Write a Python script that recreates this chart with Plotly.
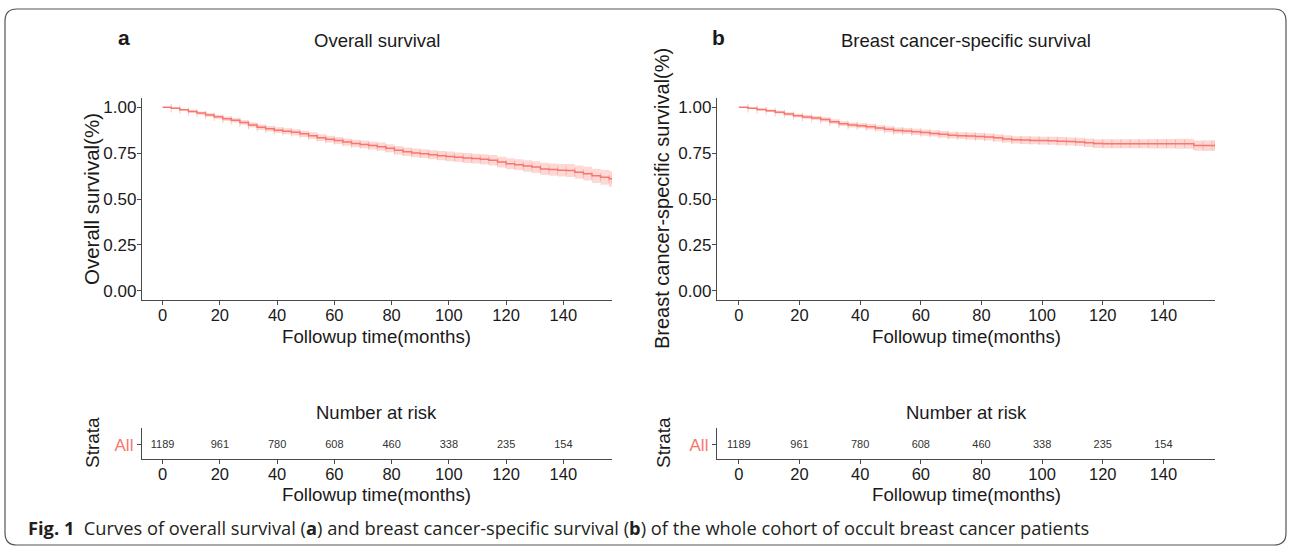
import plotly.graph_objects as go

# ---------------- data ----------------
months = [0, 3, 6, 9, 12, 15, 18, 21, 24, 27, 30, 33, 36, 39, 42, 45, 48, 51, 54, 57,
          60, 63, 66, 69, 72, 75, 78, 81, 84, 87, 90, 93, 96, 99, 102, 105, 108, 111,
          114, 117, 120, 123, 126, 129, 132, 135, 138, 141, 144, 147, 150, 153, 156, 157]

os_surv = [1.000, 0.994, 0.986, 0.977, 0.968, 0.958, 0.948, 0.937, 0.929, 0.917,
           0.903, 0.891, 0.883, 0.875, 0.869, 0.863, 0.855, 0.845, 0.834, 0.826,
           0.818, 0.810, 0.802, 0.797, 0.791, 0.785, 0.776, 0.766, 0.757, 0.751,
           0.747, 0.741, 0.736, 0.732, 0.727, 0.723, 0.720, 0.716, 0.711, 0.701,
           0.692, 0.686, 0.680, 0.674, 0.664, 0.660, 0.657, 0.655, 0.646, 0.638,
           0.626, 0.618, 0.610, 0.607]
os_lower = [1.000, 0.990, 0.980, 0.969, 0.959, 0.948, 0.937, 0.925, 0.917, 0.904,
            0.889, 0.876, 0.868, 0.859, 0.853, 0.846, 0.838, 0.827, 0.816, 0.807,
            0.799, 0.790, 0.782, 0.776, 0.770, 0.763, 0.754, 0.743, 0.734, 0.727,
            0.723, 0.716, 0.711, 0.706, 0.701, 0.696, 0.693, 0.688, 0.683, 0.672,
            0.662, 0.656, 0.649, 0.642, 0.631, 0.627, 0.623, 0.620, 0.610, 0.601,
            0.587, 0.577, 0.567, 0.563]
os_upper = [1.000, 0.998, 0.992, 0.985, 0.977, 0.968, 0.959, 0.949, 0.941, 0.930,
            0.917, 0.906, 0.898, 0.891, 0.885, 0.880, 0.872, 0.863, 0.852, 0.845,
            0.837, 0.830, 0.822, 0.818, 0.812, 0.807, 0.798, 0.789, 0.780, 0.775,
            0.771, 0.766, 0.761, 0.758, 0.753, 0.750, 0.747, 0.744, 0.739, 0.730,
            0.722, 0.716, 0.711, 0.706, 0.697, 0.693, 0.691, 0.690, 0.682, 0.675,
            0.665, 0.659, 0.653, 0.651]

bcss_surv = [1.000, 0.994, 0.987, 0.981, 0.973, 0.963, 0.954, 0.946, 0.941, 0.933,
             0.921, 0.910, 0.903, 0.899, 0.894, 0.887, 0.880, 0.873, 0.870, 0.866,
             0.862, 0.857, 0.852, 0.847, 0.845, 0.843, 0.840, 0.838, 0.833, 0.827,
             0.822, 0.821, 0.819, 0.818, 0.817, 0.815, 0.813, 0.811, 0.806, 0.802,
             0.801, 0.801, 0.801, 0.801, 0.801, 0.801, 0.801, 0.801, 0.801, 0.801,
             0.791, 0.791, 0.791, 0.791]
bcss_lower = [1.000, 0.990, 0.981, 0.974, 0.965, 0.954, 0.944, 0.935, 0.930, 0.921,
              0.908, 0.897, 0.889, 0.885, 0.879, 0.872, 0.864, 0.857, 0.854, 0.849,
              0.845, 0.840, 0.834, 0.829, 0.827, 0.824, 0.821, 0.819, 0.813, 0.807,
              0.802, 0.800, 0.798, 0.797, 0.795, 0.793, 0.791, 0.788, 0.783, 0.778,
              0.777, 0.777, 0.776, 0.776, 0.776, 0.775, 0.775, 0.775, 0.774, 0.774,
              0.763, 0.762, 0.761, 0.761]
bcss_upper = [1.000, 0.998, 0.993, 0.988, 0.981, 0.972, 0.964, 0.957, 0.952, 0.945,
              0.934, 0.923, 0.917, 0.913, 0.909, 0.902, 0.896, 0.889, 0.886, 0.883,
              0.879, 0.874, 0.870, 0.865, 0.863, 0.862, 0.859, 0.857, 0.853, 0.847,
              0.842, 0.842, 0.840, 0.839, 0.839, 0.837, 0.835, 0.834, 0.829, 0.826,
              0.825, 0.825, 0.826, 0.826, 0.826, 0.827, 0.827, 0.827, 0.828, 0.828,
              0.819, 0.820, 0.821, 0.821]

risk_times = [0, 20, 40, 60, 80, 100, 120, 140]
risk_counts = [1189, 961, 780, 608, 460, 338, 235, 154]
strata = ["All"]
y_ticks = [0.0, 0.25, 0.50, 0.75, 1.00]
y_ticktext = ["0.00", "0.25", "0.50", "0.75", "1.00"]
x_ticks = [0, 20, 40, 60, 80, 100, 120, 140]

panel_titles = ["Overall survival", "Breast cancer-specific survival"]
panel_letters = ["a", "b"]
y_titles = ["Overall survival(%)", "Breast cancer-specific survival(%)"]
x_title = "Followup time(months)"
caption = ("<b>Fig. 1</b>  Curves of overall survival (<b>a</b>) and breast cancer-specific "
           "survival (<b>b</b>) of the whole cohort of occult breast cancer patients")

# ---------------- styling ----------------
W, H = 1289, 546
RED = "#F8766D"
BAND = "rgba(248,118,109,0.28)"
TICKS = "rgba(248,118,109,0.40)"
AX = "#4a4a4a"
TXT = "#1a1a1a"
FONT = "Liberation Sans, Arial, sans-serif"


def X(px):
    return px / W


def Y(py):
    return 1 - py / H


fig = go.Figure()

panels = [
    dict(surv=os_surv, lo=os_lower, hi=os_upper, xa="x", ya="y", xr="x3", yr="y3"),
    dict(surv=bcss_surv, lo=bcss_lower, hi=bcss_upper, xa="x2", ya="y2", xr="x4", yr="y4"),
]

for p in panels:
    fig.add_trace(go.Scatter(x=months, y=p["hi"], mode="lines", line=dict(width=0, shape="hv"),
                             xaxis=p["xa"], yaxis=p["ya"], showlegend=False, hoverinfo="skip"))
    fig.add_trace(go.Scatter(x=months, y=p["lo"], mode="lines", line=dict(width=0, shape="hv"),
                             fill="tonexty", fillcolor=BAND,
                             xaxis=p["xa"], yaxis=p["ya"], showlegend=False, hoverinfo="skip"))
    # censor marks
    fig.add_trace(go.Scatter(x=months[1:], y=p["surv"][1:], mode="markers",
                             marker=dict(symbol="line-ns", size=6, color=TICKS,
                                         line=dict(color=TICKS, width=1)),
                             xaxis=p["xa"], yaxis=p["ya"], showlegend=False, hoverinfo="skip"))
    fig.add_trace(go.Scatter(x=months, y=p["surv"], mode="lines",
                             line=dict(color=RED, width=1.5, shape="hv"),
                             xaxis=p["xa"], yaxis=p["ya"], showlegend=False))
    # risk table numbers
    fig.add_trace(go.Scatter(x=risk_times, y=[0.5] * len(risk_times), mode="text",
                             text=[str(c) for c in risk_counts],
                             textfont=dict(family=FONT, size=11, color="#333333"),
                             xaxis=p["xr"], yaxis=p["yr"], showlegend=False, hoverinfo="skip"))

common_x = dict(range=[-7.2, 157], tickvals=x_ticks, showline=True, linecolor=AX, linewidth=1.3,
                ticks="outside", ticklen=4, tickwidth=1, tickcolor=AX, showgrid=False,
                zeroline=False, ticklabelstandoff=-4,
                tickfont=dict(family=FONT, size=16.5, color=TXT))
common_y = dict(range=[-0.05, 1.05], tickvals=y_ticks, ticktext=y_ticktext, showline=True,
                linecolor=AX, linewidth=1.3, ticks="outside", ticklen=4, tickwidth=1,
                tickcolor=AX, showgrid=False, zeroline=False, ticklabelstandoff=-3,
                tickfont=dict(family=FONT, size=17, color=TXT))
risk_y = dict(range=[0, 1.1], tickvals=[0.5], ticktext=strata, showline=True, linecolor=AX,
              linewidth=1.3, ticks="outside", ticklen=4, tickwidth=1, tickcolor=AX,
              showgrid=False, zeroline=False,
              tickfont=dict(family=FONT, size=17, color=RED))

xa_l, xa_r = (142, 612), (717, 1215)
main_y = (300, 98)
risk_yd = (459, 428)

fig.update_layout(
    width=W, height=H, margin=dict(l=0, r=0, t=0, b=0),
    paper_bgcolor="white", plot_bgcolor="white",
    xaxis=dict(domain=[X(xa_l[0]), X(xa_l[1])], anchor="y", **common_x),
    yaxis=dict(domain=[Y(main_y[0]), Y(main_y[1])], anchor="x", **common_y),
    xaxis2=dict(domain=[X(xa_r[0]), X(xa_r[1])], anchor="y2", **common_x),
    yaxis2=dict(domain=[Y(main_y[0]), Y(main_y[1])], anchor="x2", **common_y),
    xaxis3=dict(domain=[X(xa_l[0]), X(xa_l[1])], anchor="y3", **common_x),
    yaxis3=dict(domain=[Y(risk_yd[0]), Y(risk_yd[1])], anchor="x3", **risk_y),
    xaxis4=dict(domain=[X(xa_r[0]), X(xa_r[1])], anchor="y4", **common_x),
    yaxis4=dict(domain=[Y(risk_yd[0]), Y(risk_yd[1])], anchor="x4", **risk_y),
)

ann = []


def add_text(text, px, py, size, color=TXT, angle=0, family=FONT, xanchor="center"):
    ann.append(dict(text=text, x=X(px), y=Y(py), xref="paper", yref="paper",
                    showarrow=False, textangle=angle, xanchor=xanchor, yanchor="middle",
                    font=dict(family=family, size=size, color=color)))


# panel titles and letters
add_text(panel_titles[0], 377, 41, 18.5)
add_text(panel_titles[1], 966, 41, 18.5)
add_text("<b>%s</b>" % panel_letters[0], 124, 38, 21)
add_text("<b>%s</b>" % panel_letters[1], 718, 38, 21)
# y axis titles
add_text(y_titles[0], 91, 199, 20.5, angle=-90)
add_text(y_titles[1], 662, 199, 20, angle=-90)
# x axis titles
for cx in [(xa_l[0] + xa_l[1]) / 2, (xa_r[0] + xa_r[1]) / 2]:
    add_text(x_title, cx, 336, 18.7)
    add_text("Number at risk", cx, 412, 18.5)
    add_text(x_title, cx, 494, 18.7)
add_text("Strata", 92, 443, 19, angle=-90)
add_text("Strata", 663, 443, 19, angle=-90)
# caption
add_text(caption, 26, 527, 18.3, color="#231f20", family="Open Sans, sans-serif", xanchor="left")

fig.update_layout(annotations=ann)

# rounded border
l, t, r, b, rad = 5, 9, 1286, 545, 12


def P(px, py):
    return "%.5f %.5f" % (X(px), Y(py))


path = ("M %s L %s Q %s %s L %s Q %s %s L %s Q %s %s L %s Q %s %s Z" % (
    P(l + rad, t), P(r - rad, t), P(r, t), P(r, t + rad), P(r, b - rad), P(r, b), P(r - rad, b),
    P(l + rad, b), P(l, b), P(l, b - rad), P(l, t + rad), P(l, t), P(l + rad, t)))
fig.add_shape(type="path", path=path, xref="paper", yref="paper",
              line=dict(color="#555555", width=1.2), layer="below")

fig.write_html("out.html", config={"displayModeBar": False},
               post_script="document.body.style.margin='0';")
